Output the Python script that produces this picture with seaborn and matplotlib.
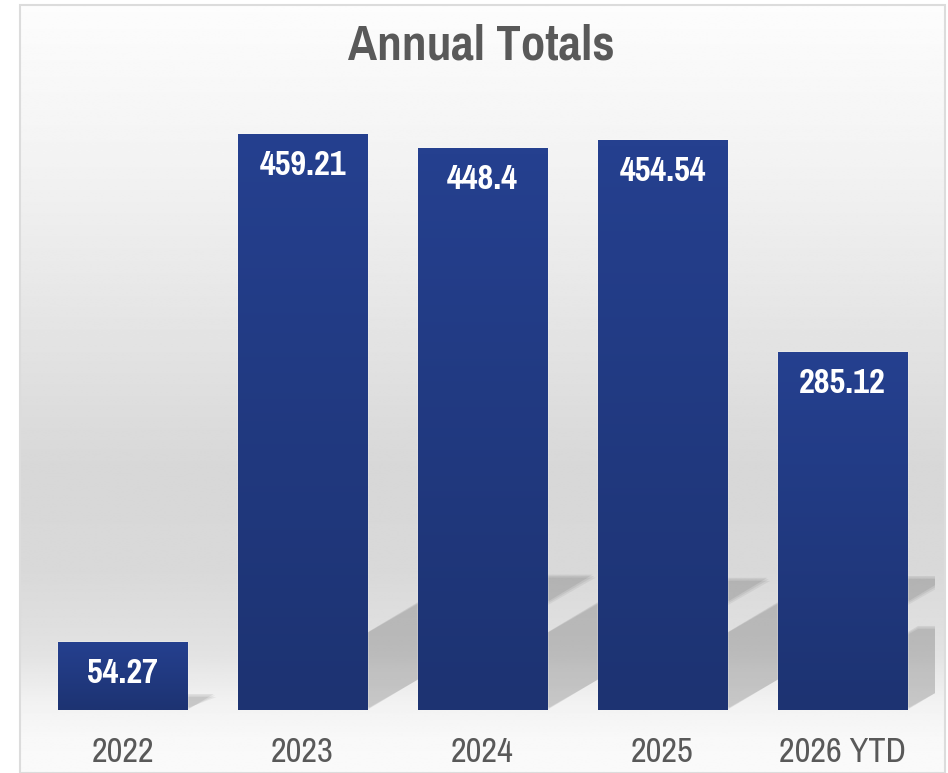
import numpy as np
import pandas as pd
import matplotlib
matplotlib.use("Agg")
import matplotlib.pyplot as plt
from matplotlib import font_manager
from matplotlib.patches import Polygon, Rectangle
from matplotlib.transforms import IdentityTransform
from matplotlib.colors import LinearSegmentedColormap
import seaborn as sns

# datos
years = ['2022', '2023', '2024', '2025', '2026 YTD']
totals = [54.27, 459.21, 448.4, 454.54, 285.12]
value_labels = ['54.27', '459.21', '448.4', '454.54', '285.12']

sns.set_style('white')

# fuente estrecha tipo Arial Narrow, la primera que exista
disponibles = {f.name for f in font_manager.fontManager.ttflist}
candidatas = ['Liberation Sans Narrow', 'Arial Narrow', 'Pragati Narrow', 'PT Sans Narrow',
              'Roboto Condensed', 'Archivo Narrow', 'Barlow Semi Condensed']
narrow = next((c for c in candidatas if c in disponibles), 'Liberation Sans')
plt.rcParams['font.family'] = [narrow, 'DejaVu Sans']

W, H = 948, 773
fig = plt.figure(figsize=(W / 100, H / 100), dpi=100)
fig.patch.set_facecolor('white')

# fondo con degradado vertical
bg = fig.add_axes([20 / W, 0, 925 / W, 768 / H])
rows = np.linspace(5, 773, 400)
stops_y = [5, 150, 300, 470, 570, 650, 705, 740, 773]
stops_v = [0.99, 0.955, 0.905, 0.845, 0.85, 0.885, 0.95, 0.975, 0.98]
g = np.interp(rows, stops_y, stops_v)
bg.imshow(np.repeat(g[:, None], 2, axis=1), cmap='gray', vmin=0, vmax=1,
          aspect='auto', extent=[0, 1, 0, 1], interpolation='bilinear')
bg.axis('off')
fig.add_artist(Rectangle((20 / W, 0), 925 / W, 768 / H, transform=fig.transFigure,
                         fill=False, edgecolor='#dcdcdc', lw=1.5))

# grafico de barras
ax = fig.add_axes([20 / W, 63 / H, 915 / W, 610 / H])
ax.patch.set_alpha(0)
df = pd.DataFrame({'year': years, 'total': totals})
sns.barplot(data=df, x='year', y='total', color='#21397f', saturation=1,
            width=0.717, ax=ax, zorder=3)
xlim = (-0.57, 4.514)
ylim = (0, 486.3)
ax.set_xlim(*xlim)
ax.set_ylim(*ylim)

bars = list(ax.patches)

# degradado dentro de cada barra
grad = LinearSegmentedColormap.from_list('bar', ['#1d3372', '#25408f'])
for bar in bars:
    x0, w, h = bar.get_x(), bar.get_width(), bar.get_height()
    im = ax.imshow(np.linspace(1, 0, 64)[:, None], cmap=grad, vmin=0, vmax=1,
                   extent=[x0, x0 + w, 0, h], aspect='auto', zorder=3.5,
                   interpolation='bilinear')
    im.set_clip_path(bar)

ax.set_xlim(*xlim)
ax.set_ylim(*ylim)

# sombras en perspectiva
for bar in bars:
    px0, py0 = ax.transData.transform((bar.get_x(), 0))
    px1, py1 = ax.transData.transform((bar.get_x() + bar.get_width(), bar.get_height()))
    dy = 0.235 * (py1 - py0)
    dx = dy / 0.6
    for k, a in [(3, 0.05), (1.5, 0.06), (0, 0.07)]:
        poly = Polygon([(px0, py0 + k), (px1 + k, py0 + k), (px1 + dx + k, py0 + dy - k),
                        (px0 + dx, py0 + dy - k)], closed=True,
                       transform=IdentityTransform(), facecolor='black', alpha=a,
                       edgecolor='none', zorder=1)
        ax.add_patch(poly)

ax.set_xlim(*xlim)
ax.set_ylim(*ylim)

# etiquetas de valores
for bar, lab in zip(bars, value_labels):
    ax.annotate(lab, (bar.get_x() + bar.get_width() / 2, bar.get_height()),
                xytext=(0, -29.5), textcoords='offset points', ha='center',
                va='baseline', color='white', fontsize=27, fontweight='bold', zorder=5)

ax.tick_params(axis='x', length=0, pad=19, labelsize=27, labelcolor='#595959')
ax.set_yticks([])
ax.set_xlabel('')
ax.set_ylabel('')
sns.despine(ax=ax, left=True, bottom=True)

fig.text(481 / W, 1 - 59 / H, 'Annual Totals', ha='center', va='baseline',
         fontsize=38.5, fontweight='bold', color='#595959')

fig.savefig('out.png', dpi=100)
